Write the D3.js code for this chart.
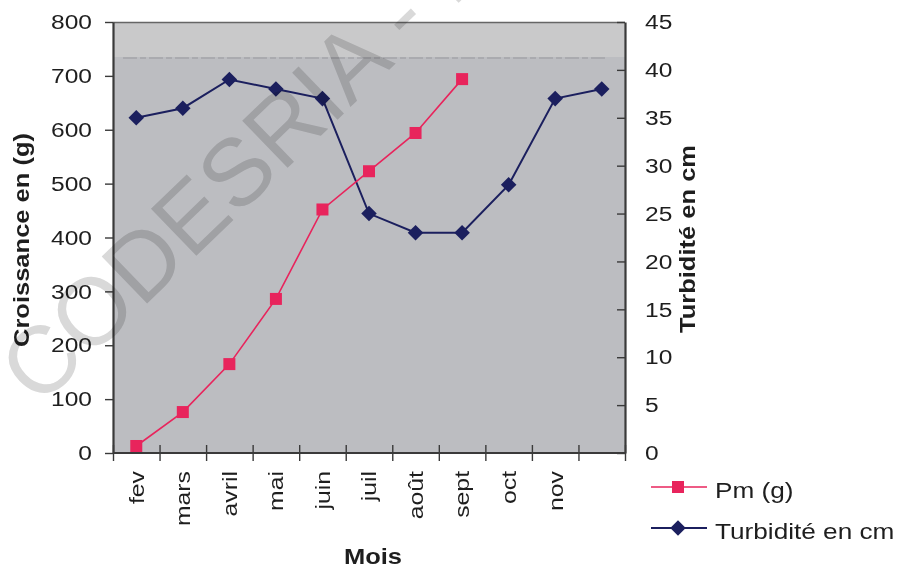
<!DOCTYPE html>
<html>
<head>
<meta charset="utf-8">
<script src="https://cdn.jsdelivr.net/npm/d3@7"></script>
<style>
  body { margin: 0; background: #fff; }
  text { font-family: "Liberation Sans", Arial, sans-serif; }
</style>
</head>
<body>
<div id="chart"></div>
<script>
const months = ["fev", "mars", "avril", "mai", "juin", "juil", "août", "sept", "oct", "nov", ""];
const pmValues = [13, 76, 165, 286, 452, 523, 594, 694];
const turbidite = [35, 36, 39, 38, 37, 25, 23, 23, 28, 37, 38];
const leftTicks = [0, 100, 200, 300, 400, 500, 600, 700, 800];
const rightTicks = [0, 5, 10, 15, 20, 25, 30, 35, 40, 45];

const W = 898, H = 571;
const plot = { left: 113, right: 625, top: 22, bottom: 453 };
const ink = "#1e1e1e", axisCol = "#3a3a3a";

const svg = d3.select("#chart").append("svg")
    .attr("width", W)
    .attr("height", H);

// the scanned text is wider than Arial, so stretch it a bit
function stretch(sel, k) {
    sel.each(function () {
        const t = d3.select(this);
        const x = +t.attr("x") || 0;
        t.attr("x", x / k);
        t.attr("transform", (t.attr("transform") || "") + ` scale(${k},1)`);
    });
}

const xBand = d3.scaleBand()
    .domain(d3.range(months.length))
    .range([plot.left, plot.right])
    .paddingInner(0).paddingOuter(0);
const xEdge = d3.scaleLinear()
    .domain([0, months.length])
    .range([plot.left, plot.right]);
const yLeft = d3.scaleLinear().domain([0, 800]).range([plot.bottom, plot.top]);
const yRight = d3.scaleLinear().domain([0, 45]).range([plot.bottom, plot.top]);

// plot background
svg.append("rect")
    .attr("x", plot.left).attr("y", plot.top)
    .attr("width", plot.right - plot.left).attr("height", plot.bottom - plot.top)
    .attr("fill", "#bcbdc1");
// lighter band at the top of the plot
svg.append("rect")
    .attr("x", plot.left).attr("y", plot.top)
    .attr("width", plot.right - plot.left).attr("height", 35)
    .attr("fill", "#c9c9ca");
svg.append("line")
    .attr("x1", plot.left + 10).attr("x2", plot.right - 20)
    .attr("y1", plot.top + 36).attr("y2", plot.top + 36)
    .attr("stroke", "#8f8f94").attr("stroke-width", 0.8)
    .attr("stroke-dasharray", "14,3,6,3");
svg.append("line")
    .attr("x1", plot.left).attr("x2", plot.right)
    .attr("y1", plot.top + 0.5).attr("y2", plot.top + 0.5)
    .attr("stroke", "#666").attr("stroke-width", 1.5);

// left axis
const axL = svg.append("g")
    .attr("transform", `translate(${plot.left},0)`)
    .call(d3.axisLeft(yLeft).tickValues(leftTicks).tickSize(8).tickSizeOuter(0).tickPadding(13));
// right axis, ticks pointing inwards
const axR = svg.append("g")
    .attr("transform", `translate(${plot.right},0)`)
    .call(d3.axisRight(yRight).tickValues(rightTicks).tickSize(-8).tickSizeOuter(0).tickPadding(20));
// bottom axis: ticks crossing the axis at the edges of the months
const axB = svg.append("g")
    .attr("transform", `translate(0,${plot.bottom - 8})`)
    .call(d3.axisBottom(xEdge).tickValues(d3.range(months.length + 1)).tickFormat("").tickSize(16).tickSizeOuter(0));
axB.select(".domain").remove();
svg.append("line")
    .attr("x1", plot.left).attr("x2", plot.right)
    .attr("y1", plot.bottom).attr("y2", plot.bottom)
    .attr("stroke", axisCol).attr("stroke-width", 2.2);
// month labels at band centers
const axM = svg.append("g")
    .attr("transform", `translate(0,${plot.bottom})`)
    .call(d3.axisBottom(xBand).tickFormat(i => months[i]).tickSize(0));
axM.select(".domain").remove();
axM.selectAll("text")
    .attr("transform", "rotate(-90)")
    .attr("text-anchor", "end")
    .attr("x", -18).attr("y", 0).attr("dy", "0.35em");

[axL, axR, axB, axM].forEach(g => {
    g.selectAll("text").attr("font-size", 21).attr("fill", ink)
        .attr("font-family", "Liberation Sans, Arial, sans-serif");
    g.selectAll(".tick line").attr("stroke", axisCol).attr("stroke-width", 1.4);
    g.select(".domain").attr("stroke", axisCol).attr("stroke-width", 2.2);
});
stretch(axL.selectAll("text"), 1.17);
stretch(axR.selectAll("text"), 1.17);
stretch(axM.selectAll("text"), 1.18);

// series
const pmLine = d3.line().x((d, i) => xBand(i) + xBand.bandwidth() / 2).y(d => yLeft(d));
const tuLine = d3.line().x((d, i) => xBand(i) + xBand.bandwidth() / 2).y(d => yRight(d));
const red = "#e8245c", navy = "#1b1f5e";

svg.append("path").datum(turbidite)
    .attr("d", tuLine).attr("fill", "none").attr("stroke", navy).attr("stroke-width", 2);
svg.append("path").datum(pmValues)
    .attr("d", pmLine).attr("fill", "none").attr("stroke", red).attr("stroke-width", 1.6);

svg.selectAll(".tu").data(turbidite).enter().append("rect")
    .attr("x", -5.5).attr("y", -5.5).attr("width", 11).attr("height", 11)
    .attr("transform", (d, i) => `translate(${xBand(i) + xBand.bandwidth() / 2},${yRight(d)}) rotate(45)`)
    .attr("fill", navy);
svg.selectAll(".pm").data(pmValues).enter().append("rect")
    .attr("x", (d, i) => xBand(i) + xBand.bandwidth() / 2 - 6)
    .attr("y", d => yLeft(d) - 6)
    .attr("width", 12).attr("height", 12)
    .attr("fill", red);

// axis titles
const titles = [
    { text: "Croissance en (g)", transform: "translate(29,240) rotate(-90)" },
    { text: "Turbidité en cm", transform: "translate(695,239) rotate(-90)" },
    { text: "Mois", transform: "translate(373,564)" }
];
titles.forEach(t => {
    const el = svg.append("text")
        .attr("transform", t.transform)
        .attr("text-anchor", "middle").attr("font-size", 22).attr("font-weight", "bold").attr("fill", ink)
        .text(t.text);
    stretch(el, 1.16);
});

// legend
const legend = [
    { name: "Pm (g)", color: red, shape: "square", y: 487 },
    { name: "Turbidité en cm", color: navy, shape: "diamond", y: 528 }
];
legend.forEach(l => {
    svg.append("line").attr("x1", 651).attr("x2", 707).attr("y1", l.y).attr("y2", l.y)
        .attr("stroke", l.color).attr("stroke-width", l.shape === "square" ? 1.6 : 2);
    if (l.shape === "square") {
        svg.append("rect").attr("x", 672).attr("y", l.y - 6).attr("width", 12).attr("height", 12).attr("fill", l.color);
    } else {
        svg.append("rect").attr("x", -5.5).attr("y", -5.5).attr("width", 11).attr("height", 11)
            .attr("transform", `translate(678,${l.y}) rotate(45)`).attr("fill", l.color);
    }
    const el = svg.append("text").attr("transform", `translate(715,${l.y + 3})`).attr("dy", "0.35em")
        .attr("font-size", 22).attr("fill", ink).text(l.name);
    stretch(el, 1.19);
});

// watermark
svg.append("text")
    .attr("transform", "translate(39,408) rotate(-44)")
    .attr("font-size", 95)
    .attr("fill", "#d9d9d9")
    .style("mix-blend-mode", "multiply")
    .text("CODESRIA - BIBLIOTHEQUE");
</script>
</body>
</html>
